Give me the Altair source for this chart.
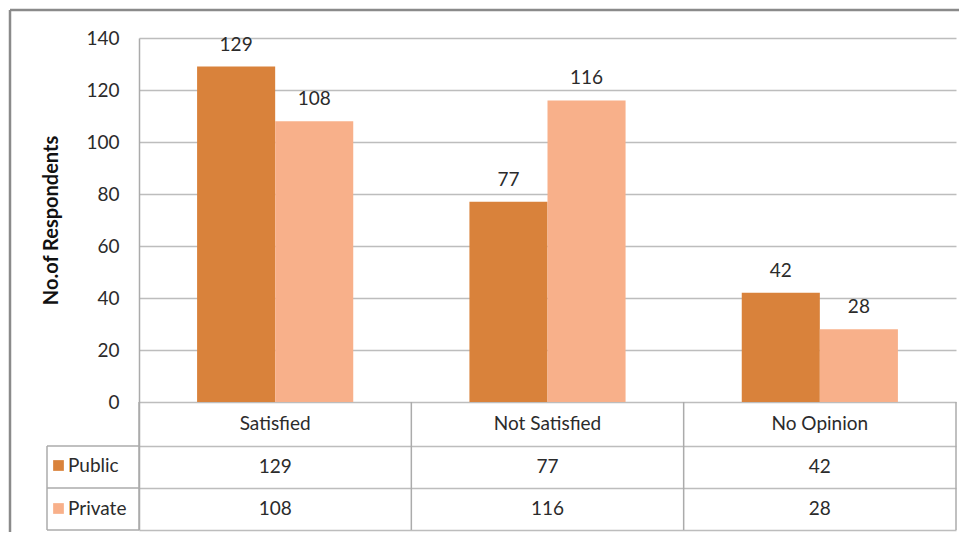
import altair as alt
import pandas as pd

# ---------------- data ----------------
categories = ["Satisfied", "Not Satisfied", "No Opinion"]
series = ["Public", "Private"]
public_values = [129, 77, 42]
private_values = [108, 116, 28]
y_ticks = [0, 20, 40, 60, 80, 100, 120, 140]
colors = ["#D9823B", "#F8B08A"]

rows = []
for c, pub, pri in zip(categories, public_values, private_values):
    rows.append({"category": c, "series": "Public", "value": pub})
    rows.append({"category": c, "series": "Private", "value": pri})
df = pd.DataFrame(rows)

# ---------------- layout ----------------
FONT = "Lato"
TXT = "#2b2b2b"
GRID = "#BDBDBD"
LINE = "#ABABAB"
BAR_H = 364          # pixels used by 0..140
W = 817
unit = BAR_H / 140.0  # pixels per unit
header_h = 44 / unit
row_h = 42 / unit
b1 = -header_h
b2 = b1 - row_h
b3 = b2 - row_h
H = BAR_H + int(round(-b3 * unit))
header_c = b1 / 2
pub_c = (b1 + b2) / 2
pri_c = (b2 + b3) / 2

cat_df = pd.DataFrame({"category": categories, "top": 0.0, "bottom": b3})
bounds_df = pd.DataFrame({"b": [b1, b2, b3]})
leftcol_df = pd.DataFrame({"top": [b1], "bottom": [b3]})
header_df = pd.DataFrame({"category": categories, "yy": header_c})
df["yy"] = [pub_c if s == "Public" else pri_c for s in df["series"]]
frame_df = pd.DataFrame({"ftop": [140 + 28 / unit], "fbot": [b3 - 40 / unit]})

xscale = alt.Scale(domain=categories, paddingInner=0, paddingOuter=0)
yscale = alt.Scale(domain=[b3, 140], nice=False, zero=False)
offscale = alt.Scale(domain=series, paddingOuter=0.744, paddingInner=0)

yaxis = alt.Axis(
    values=y_ticks + [b1, b2, b3],
    grid=True, gridColor=GRID, gridWidth=1.5,
    domain=True, domainColor=LINE, domainWidth=1.5,
    ticks=False,
    labelExpr="datum.value >= 0 ? datum.label : ''",
    labelPadding=20, labelFont=FONT, labelFontSize=19, labelColor=TXT,
    title="No.of Respondents", titleFont=FONT, titleFontSize=20,
    titleFontWeight="bold", titleColor="#111111",
    titleAngle=270, titleX=-78, titleY=182, titleAlign="center",
    titleBaseline="bottom",
)

base = alt.Chart(df)

bars = base.mark_bar().encode(
    x=alt.X("category:N", scale=xscale, axis=None),
    xOffset=alt.XOffset("series:N", scale=offscale),
    y=alt.Y("value:Q", scale=yscale, axis=yaxis),
    color=alt.Color(
        "series:N",
        scale=alt.Scale(domain=series, range=colors),
        legend=alt.Legend(
            title=None, orient="none", legendX=-90, legendY=418,
            direction="vertical", symbolType="square", symbolSize=115,
            symbolStrokeWidth=0, symbolOpacity=1, labelFont=FONT,
            labelFontSize=19, labelColor=TXT, labelOffset=0,
            rowPadding=23, padding=0,
        ),
    ),
)

bar_labels = base.mark_text(
    dy=-16, baseline="alphabetic", font=FONT, fontSize=19, color=TXT
).encode(
    x=alt.X("category:N", scale=xscale, axis=None),
    xOffset=alt.XOffset("series:N", scale=offscale),
    y=alt.Y("value:Q", scale=yscale, axis=yaxis),
    text="value:Q",
)

header_text = alt.Chart(header_df).mark_text(
    baseline="middle", font=FONT, fontSize=19, color=TXT
).encode(
    x=alt.X("category:N", scale=xscale, axis=None),
    y=alt.Y("yy:Q", scale=yscale, axis=yaxis),
    text="category:N",
)

value_text = base.mark_text(
    baseline="middle", font=FONT, fontSize=19, color=TXT
).encode(
    x=alt.X("category:N", scale=xscale, axis=None),
    y=alt.Y("yy:Q", scale=yscale, axis=yaxis),
    text="value:Q",
)

col_lines = alt.Chart(cat_df).mark_rule(color=LINE, strokeWidth=1.5).encode(
    x=alt.X("category:N", scale=xscale, bandPosition=0, axis=None),
    y=alt.Y("top:Q", scale=yscale, axis=yaxis),
    y2="bottom:Q",
)

right_line = alt.Chart(cat_df.tail(1)).mark_rule(color=LINE, strokeWidth=1.5).encode(
    x=alt.X("category:N", scale=xscale, bandPosition=1, axis=None),
    y=alt.Y("top:Q", scale=yscale, axis=yaxis),
    y2="bottom:Q",
)

# left "legend" column of the data table
row_lines = alt.Chart(bounds_df).mark_rule(color=LINE, strokeWidth=1.5).encode(
    x=alt.value(-92), x2=alt.value(0),
    y=alt.Y("b:Q", scale=yscale, axis=yaxis),
)

left_col_line = alt.Chart(leftcol_df).mark_rule(color=LINE, strokeWidth=1.5).encode(
    x=alt.value(-92),
    y=alt.Y("top:Q", scale=yscale, axis=yaxis),
    y2="bottom:Q",
)

# outer chart-area frame (top and left edges)
frame_top = alt.Chart(frame_df).mark_rule(color="#8A8A8A", strokeWidth=2.5).encode(
    x=alt.value(-129), x2=alt.value(W + 30),
    y=alt.Y("ftop:Q", scale=yscale, axis=yaxis),
)
frame_left = alt.Chart(frame_df).mark_rule(color="#8A8A8A", strokeWidth=2.5).encode(
    x=alt.value(-129),
    y=alt.Y("ftop:Q", scale=yscale, axis=yaxis),
    y2="fbot:Q",
)

chart = alt.layer(
    col_lines, right_line, row_lines, left_col_line, bars, bar_labels,
    header_text, value_text, frame_top, frame_left,
).properties(
    width=W, height=H,
    autosize=alt.AutoSizeParams(type="none"),
    padding={"left": 131, "top": 30, "right": 3, "bottom": 2},
    background="white",
).configure_view(stroke=None)

chart.save("out.html", embed_options={"renderer": "svg", "actions": False})
